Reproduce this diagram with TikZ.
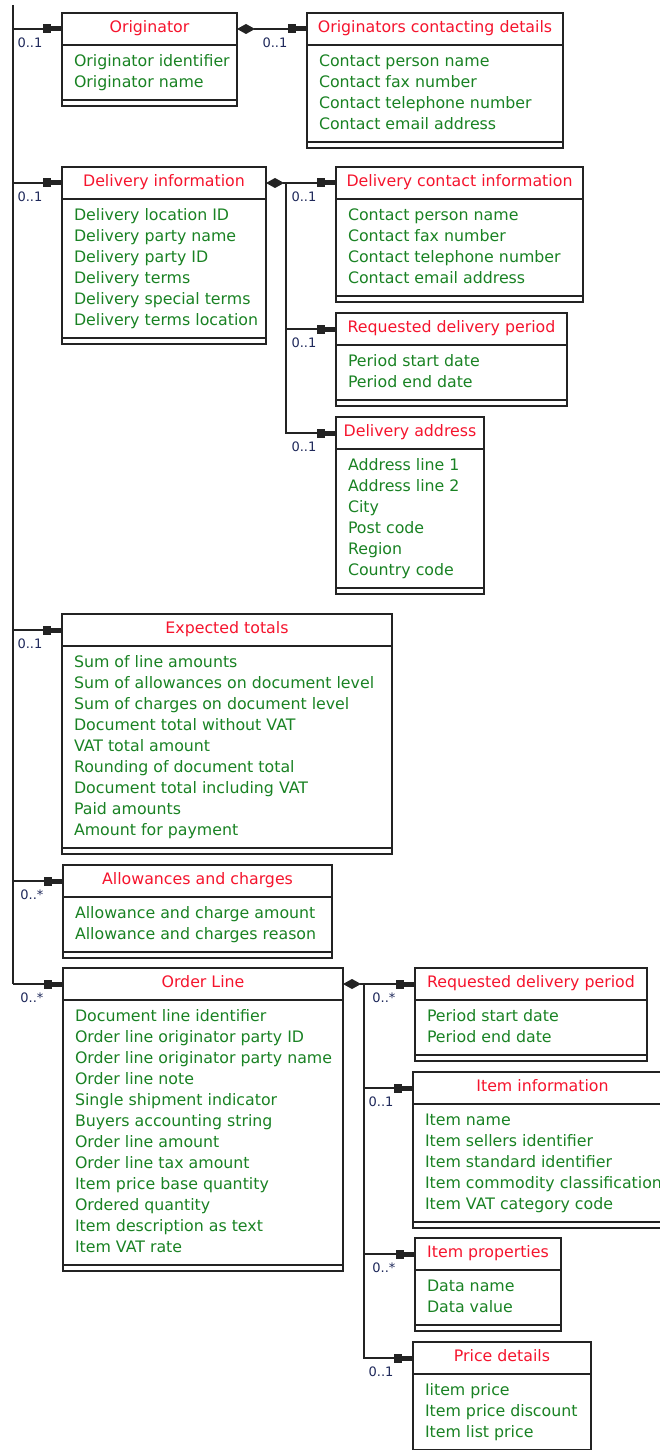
\documentclass[tikz,border=0pt]{standalone}
\usepackage{fontspec}
\setmainfont{DejaVu Sans}
\usetikzlibrary{positioning,arrows.meta}

\definecolor{titlered}{RGB}{245,20,45}
\definecolor{attrgreen}{RGB}{25,130,35}
\definecolor{multblue}{RGB}{30,40,90}
\definecolor{boxgrey}{RGB}{35,35,35}

\newcommand{\cstrut}{\rule[-5.5pt]{0pt}{15.5pt}}
\newcommand{\classbox}[6]{%
	\node[ctitle, minimum width=#3pt] (#1) at (#2) {\cstrut#5};
	\node[cattr, minimum width=#3pt, minimum height=#4*21pt+13pt, below=0pt of #1] (#1-attr)
		{\makebox[\dimexpr#3pt-24pt\relax][l]{\begin{tabular}{@{}l@{}}#6\end{tabular}}};
	\node[cops, minimum width=#3pt, below=0pt of #1-attr] (#1-ops) {};%
}

\tikzset{
	ctitle/.style={draw=boxgrey, line width=1.2pt, anchor=north west, minimum height=32pt, inner sep=0pt, outer sep=0pt, text=titlered, font=\fontsize{15.8}{21}\selectfont},
	cattr/.style={draw=boxgrey, line width=1.2pt, inner xsep=12pt, inner ysep=0pt, outer sep=0pt, text=attrgreen, font=\fontsize{15.8}{21}\selectfont},
	cops/.style={draw=boxgrey, line width=1.2pt, minimum height=6pt, inner sep=0pt, outer sep=0pt},
	link/.style={draw=boxgrey, line width=1.2pt, -{Rectangle[length=8pt,width=9pt]Rectangle[length=11pt,width=5pt]}},
	comp/.style={draw=boxgrey, line width=1.2pt, {Diamond[length=18pt,width=10pt]}-{Rectangle[length=8pt,width=9pt]Rectangle[length=11pt,width=5pt]}},
	mult/.style={pos=1, anchor=north east, xshift=-19pt, yshift=-8pt, inner sep=0pt, text=multblue, font=\fontsize{13}{13}\selectfont},
}

\begin{document}
\begin{tikzpicture}[x=1pt, y=-1pt]
	\useasboundingbox (0,0) rectangle (660,1450);
	\clip (0,0) rectangle (660,1450);

	\classbox{orig}{62,13}{175}{2}{Originator}{Originator identifier\\Originator name}
	\classbox{origc}{307,13}{256}{4}{Originators contacting details}{Contact person name\\Contact fax number\\Contact telephone number\\Contact email address}
	\classbox{deliv}{62,167}{204}{6}{Delivery information}{Delivery location ID\\Delivery party name\\Delivery party ID\\Delivery terms\\Delivery special terms\\Delivery terms location}
	\classbox{dcont}{336,167}{247}{4}{Delivery contact information}{Contact person name\\Contact fax number\\Contact telephone number\\Contact email address}
	\classbox{dperiod}{336,313}{231}{2}{Requested delivery period}{Period start date\\Period end date}
	\classbox{daddr}{336,417}{148}{6}{Delivery address}{Address line 1\\Address line 2\\City\\Post code\\Region\\Country code}
	\classbox{totals}{62,614}{330}{9}{Expected totals}{Sum of line amounts\\Sum of allowances on document level\\Sum of charges on document level\\Document total without VAT\\VAT total amount\\Rounding of document total\\Document total including VAT\\Paid amounts\\Amount for payment}
	\classbox{allow}{63,865}{269}{2}{Allowances and charges}{Allowance and charge amount\\Allowance and charges reason}
	\classbox{ordline}{63,968}{280}{12}{Order Line}{Document line identifier\\Order line originator party ID\\Order line originator party name\\Order line note\\Single shipment indicator\\Buyers accounting string\\Order line amount\\Order line tax amount\\Item price base quantity\\Ordered quantity\\Item description as text\\Item VAT rate}
	\classbox{lperiod}{415,968}{232}{2}{Requested delivery period}{Period start date\\Period end date}
	\classbox{item}{413,1072}{259}{5}{Item information}{Item name\\Item sellers identifier\\Item standard identifier\\Item commodity classification\\Item VAT category code}
	\classbox{itemprop}{415,1238}{146}{2}{Item properties}{Data name\\Data value}
	\classbox{price}{413,1342}{178}{3}{Price details}{Iitem price\\Item price discount\\Item list price}

	\coordinate (trunk) at (13,5);
	\draw[boxgrey, line width=1.2pt] (trunk) -- (trunk |- ordline.west);
	\foreach \cls/\m in {orig/1, deliv/1, totals/1, allow/*, ordline/*}
		\draw[link] (trunk |- \cls.west) -- (\cls.west) node[mult] {0..\m};

	\draw[comp] (orig.east) -- (origc.west) node[mult] {0..1};

	\coordinate[right=20pt of deliv.east] (deliv-fork);
	\draw[comp] (deliv.east) -- (dcont.west) node[mult] {0..1};
	\foreach \cls in {dperiod, daddr}
		\draw[link] (deliv-fork) |- (\cls.west) node[mult] {0..1};

	\coordinate[right=21pt of ordline.east] (ordline-fork);
	\draw[comp] (ordline.east) -- (lperiod.west) node[mult] {0..*};
	\foreach \cls/\m in {item/1, itemprop/*, price/1}
		\draw[link] (ordline-fork) |- (\cls.west) node[mult] {0..\m};
\end{tikzpicture}
\end{document}
